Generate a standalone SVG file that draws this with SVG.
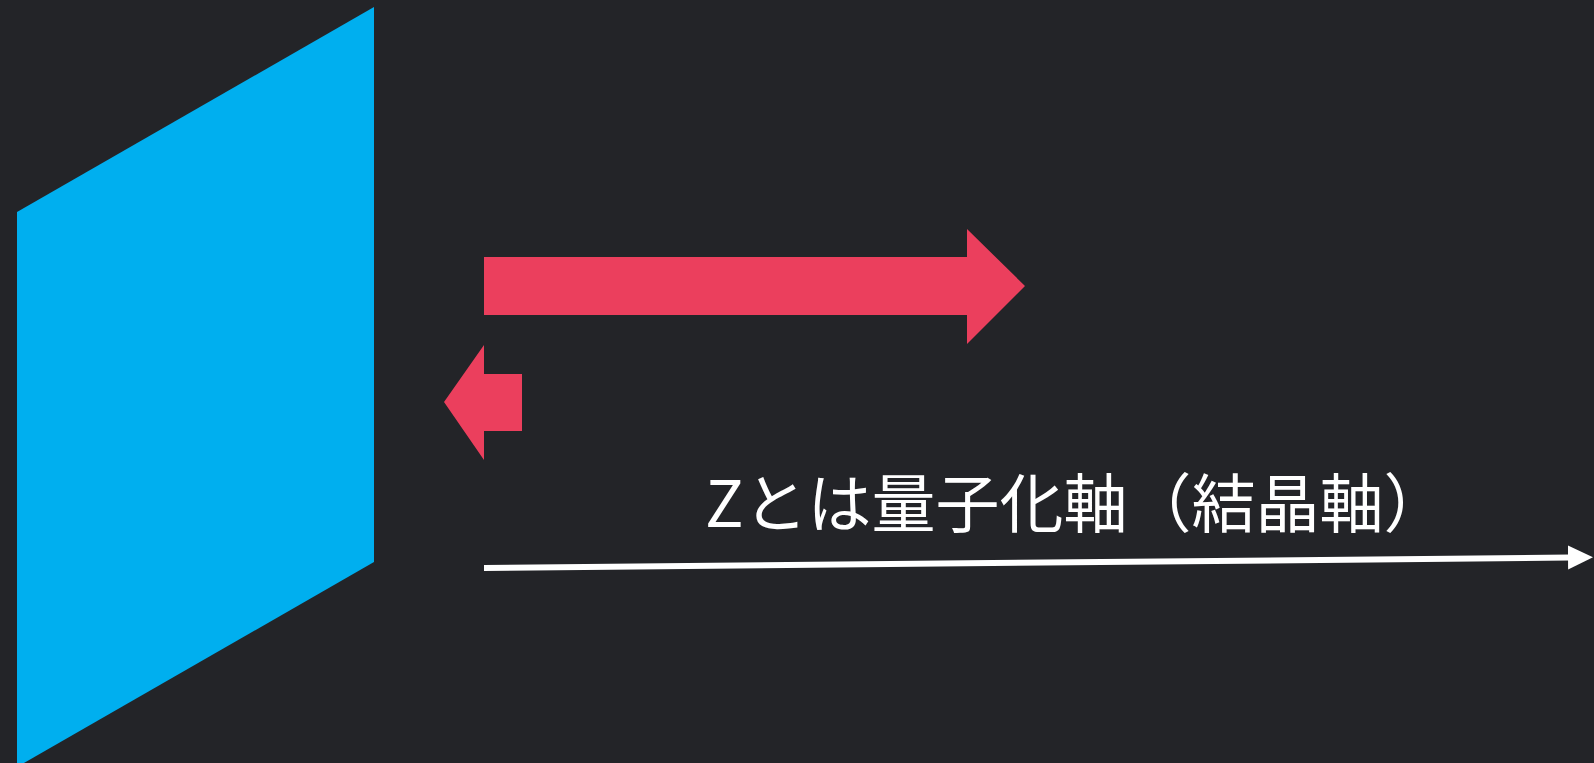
<svg xmlns="http://www.w3.org/2000/svg" width="1594" height="763" viewBox="0 0 1594 763">
<style>
.bg{fill:#232428}
.plane{fill:#00AFEF}
.red{fill:#EB3F5D}
.axis{stroke:#FFFFFF;stroke-width:6;fill:none}
.label{font-family:"Noto Sans CJK JP","Noto Sans",sans-serif;font-size:64px;fill:#FFFFFF;font-weight:400}
</style>
<defs>
<marker id="ah" markerUnits="userSpaceOnUse" markerWidth="26" markerHeight="26" refX="2" refY="12" orient="auto" viewBox="0 0 26 24">
<path d="M0,0 L25,12 L0,24 Z" fill="#FFFFFF"/>
</marker>
</defs>
<rect class="bg" x="0" y="0" width="1594" height="763"/>
<g id="plane">
<polygon class="plane" points="17,212 374,7 374,562 17,767"/>
</g>
<g id="arrow-forward">
<polygon class="red" points="484,257 967,257 967,229 1025,286 967,344 967,315 484,315"/>
</g>
<g id="arrow-back">
<polygon class="red" points="522,374 484,374 484,345 444,402 484,460 484,431 522,431"/>
</g>
<g id="label">
<text class="label" x="705" y="527">Zとは量子化軸（結晶軸）</text>
</g>
<g id="connectors">
<line class="axis" x1="484" y1="568" x2="1570" y2="557.5" marker-end="url(#ah)"/>
</g>
</svg>
